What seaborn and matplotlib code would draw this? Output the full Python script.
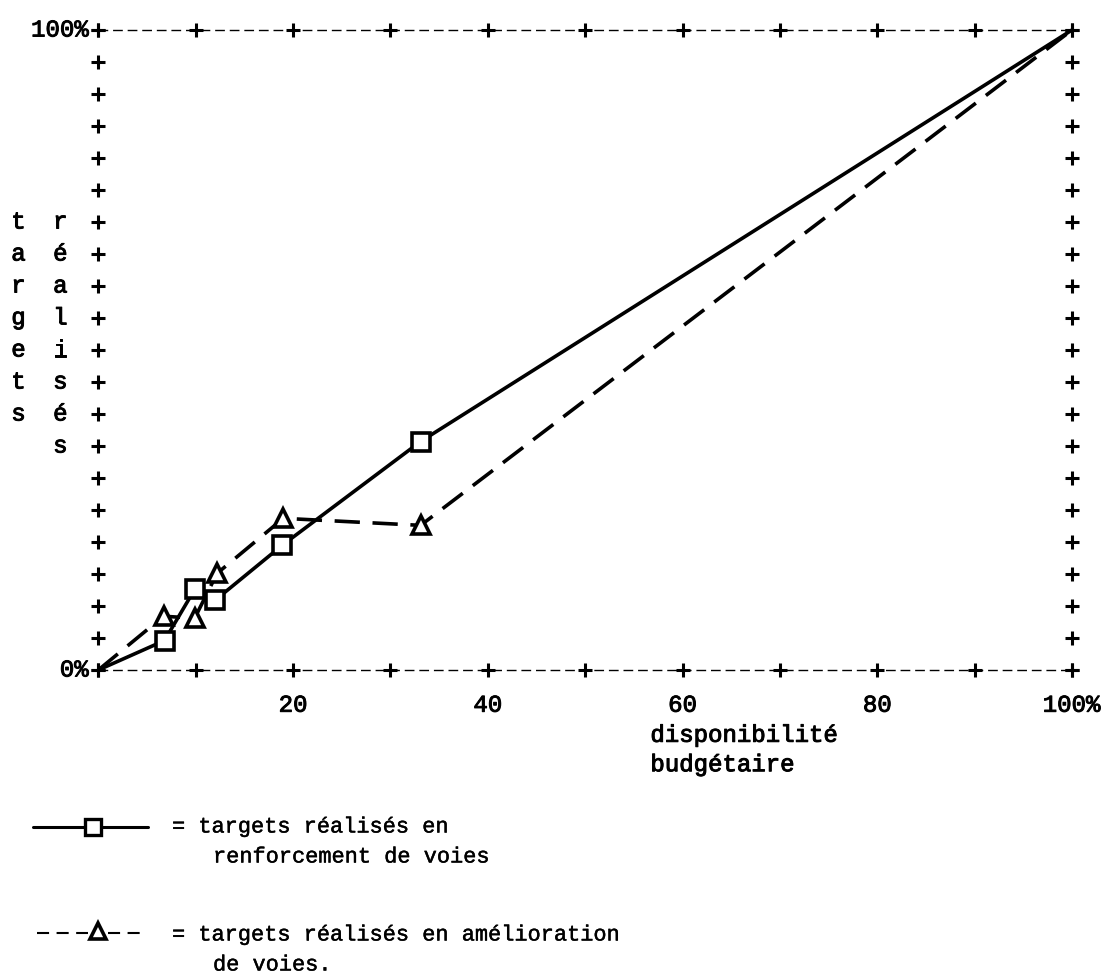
import numpy as np
import pandas as pd
import matplotlib
matplotlib.use("Agg")
import matplotlib.pyplot as plt
import matplotlib.patheffects as pe
import seaborn as sns
from matplotlib.lines import Line2D

sns.set_style("white")
plt.rcParams["font.family"] = ["Liberation Mono", "DejaVu Sans Mono"]

# Budget availability (%) vs. targets achieved (%)
renf_x = [0.0, 6.8, 9.9, 12.0, 18.9, 33.1, 100.0]
renf_y = [0.0, 4.6, 12.6, 10.9, 19.5, 35.7, 100.0]
amel_x = [0.0, 6.7, 9.9, 12.2, 19.0, 33.1, 100.0]
amel_y = [0.0, 8.4, 8.1, 15.1, 23.7, 22.6, 100.0]

x_tick_labels = ["20", "40", "60", "80"]
x_tick_values = [20, 40, 60, 80]

series_names = ["renforcement", "amelioration"]

df = pd.concat([
    pd.DataFrame({"dispo": renf_x, "targets": renf_y, "serie": series_names[0]}),
    pd.DataFrame({"dispo": amel_x, "targets": amel_y, "serie": series_names[1]}),
], ignore_index=True)

W, H = 1101, 974
fig = plt.figure(figsize=(W / 100, H / 100), dpi=100)
ax = fig.add_axes([98.3 / W, 1 - 670 / H, 973.7 / W, 640 / H])
ax.set_xlim(0, 100)
ax.set_ylim(0, 100)
ax.axis("off")

# typed frame: dashed top/bottom rules with "+" marks
frame_kw = dict(color="black", lw=1.0, dashes=(7, 3.5), clip_on=False, zorder=1)
ax.plot([0, 100], [100, 100], **frame_kw)
ax.plot([0, 100], [0, 0], **frame_kw)
plus_kw = dict(ls="none", marker="+", ms=10, mew=2.2, color="black", clip_on=False, zorder=2)
xs = np.arange(0, 101, 10)
ys = np.arange(0, 101, 5)
ax.plot(xs, np.zeros_like(xs), **plus_kw)
ax.plot(xs, np.full_like(xs, 100), **plus_kw)
ax.plot(np.zeros_like(ys), ys, **plus_kw)
ax.plot(np.full_like(ys, 100), ys, **plus_kw)

# the two series; no symbol on the common end points (0,0) and (100,100)
sns.lineplot(
    data=df, x="dispo", y="targets", style="serie", ax=ax,
    markers={series_names[0]: "s", series_names[1]: "^"},
    dashes={series_names[0]: "", series_names[1]: (7, 3.5)},
    color="black", lw=2.6, estimator=None, sort=False, legend=False,
    markersize=13, markeredgewidth=2.6, markeredgecolor="black",
    markerfacecolor="white", markevery=slice(1, -1), clip_on=False, zorder=5,
)
for ln in ax.lines[-2:]:
    ln.set_markerfacecolor("white")

# slightly heavier strokes, like typed characters
ink = [pe.withStroke(linewidth=0.7, foreground="black")]
fs_axis = 17.3
txt_kw = dict(fontsize=fs_axis, color="black", clip_on=False, path_effects=ink)

# axis end labels
ax.text(-1.0, 100, "100%", ha="right", va="center", **txt_kw)
ax.text(-1.0, 0, "0%", ha="right", va="center", **txt_kw)
for v, lab in zip(x_tick_values, x_tick_labels):
    ax.text(v, -5.5, lab, ha="center", va="center", **txt_kw)
ax.text(102.9, -5.5, "100%", ha="right", va="center", **txt_kw)

# x-axis title
ax.text(56.7, -10.2, "disponibilité", ha="left", va="center", **txt_kw)
ax.text(56.7, -14.8, "budgétaire", ha="left", va="center", **txt_kw)

# y-axis title typed vertically, one letter per row
for i, ch in enumerate("targets"):
    ax.text(-8.2, 70 - 5 * i, ch, ha="center", va="center", **txt_kw)
for i, ch in enumerate("réalisés"):
    ax.text(-3.9, 70 - 5 * i, ch, ha="center", va="center", **txt_kw)

# key
def fx(px):
    return px / W

def fy(py):
    return 1 - py / H

fig.add_artist(Line2D([fx(33), fx(148)], [fy(827), fy(827)], color="black", lw=2.2))
fig.add_artist(Line2D([fx(93)], [fy(827)], ls="none", marker="s", ms=11, mew=2.4,
                      mec="black", mfc="white"))
leg_kw = dict(fontsize=15.8, color="black", va="center", ha="left",
              path_effects=[pe.withStroke(linewidth=0.3, foreground="black")])
fig.text(fx(172), fy(827), "= targets réalisés en", **leg_kw)
fig.text(fx(213), fy(857), "renforcement de voies", **leg_kw)

key_dash = dict(color="black", lw=1.5, dashes=(5.8, 3.6))
fig.add_artist(Line2D([fx(37), fx(88)], [fy(933), fy(933)], **key_dash))
fig.add_artist(Line2D([fx(108), fx(147)], [fy(933), fy(933)], **key_dash))
fig.add_artist(Line2D([fx(98)], [fy(931)], ls="none", marker="^", ms=12, mew=2.6,
                      mec="black", mfc="white"))
fig.text(fx(172), fy(935), "= targets réalisés en amélioration", **leg_kw)
fig.text(fx(213), fy(965), "de voies.", **leg_kw)

fig.savefig("out.png", dpi=100)
